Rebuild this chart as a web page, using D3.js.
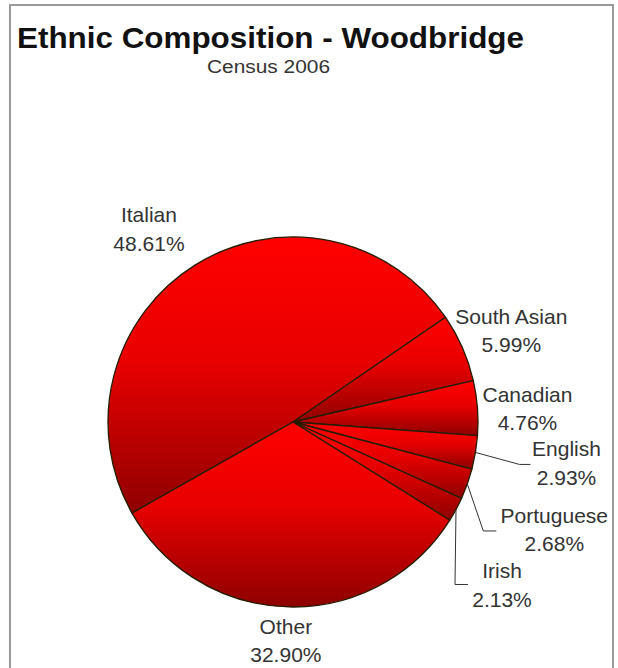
<!DOCTYPE html>
<html>
<head>
<meta charset="utf-8">
<script src="https://cdn.jsdelivr.net/npm/d3@7"></script>
<style>
  html, body { margin: 0; padding: 0; background: #fff; }
  svg { display: block; }
  text { font-family: "Liberation Sans", Arial, sans-serif; }
</style>
</head>
<body>
<svg id="chart" width="618" height="668"></svg>
<script>
// Ethnic origin shares, Woodbridge, Census 2006 (percent)
const categories = ["Italian", "South Asian", "Canadian", "English", "Portuguese", "Irish", "Other"];
const shares = [48.61, 5.99, 4.76, 2.93, 2.68, 2.13, 32.90];

const titleText = "Ethnic Composition - Woodbridge";
const subtitleText = "Census 2006";

// Label placement relative to the point where each slice's bisector meets the rim.
// leader: elbow offset and horizontal run for slices whose labels sit on callout lines.
const labelLayout = {
  "Italian":     { dx: -46,  dy: -43 },
  "South Asian": { dx: 49,   dy: -24 },
  "Canadian":    { dx: 50,   dy: -6 },
  "English":     { dx: 91,   dy: 4,  leader: { ex: 44, ey: 12, run: 11 } },
  "Portuguese":  { dx: 87,   dy: 39, leader: { ex: 16, ey: 47, run: 13 } },
  "Irish":       { dx: 46,   dy: 69, leader: { ex: -1, ey: 75, run: 13 } },
  "Other":       { dx: -3,   dy: 27 }
};

const W = 618, H = 668;
const cx = 293, cy = 422, radius = 185;
const lineGap = 28.5;
const startDeg = 240.5;

const svg = d3.select("#chart");

// frame
svg.append("rect")
  .attr("x", 10).attr("y", 5)
  .attr("width", 603).attr("height", H + 10)
  .attr("fill", "#fff")
  .attr("stroke", "#9a9a9a")
  .attr("stroke-width", 2);

// title + subtitle
svg.append("text")
  .attr("x", 17).attr("y", 48)
  .attr("font-size", 30).attr("font-weight", "bold")
  .attr("fill", "#111")
  .attr("textLength", 507).attr("lengthAdjust", "spacingAndGlyphs")
  .text(titleText);

svg.append("text")
  .attr("x", 207).attr("y", 73)
  .attr("font-size", 18)
  .attr("fill", "#333")
  .attr("textLength", 123).attr("lengthAdjust", "spacingAndGlyphs")
  .text(subtitleText);

// vertical shading applied per slice (bounding-box based)
const defs = svg.append("defs");
const grad = defs.append("linearGradient")
  .attr("id", "sliceShade")
  .attr("x1", 0).attr("y1", 0).attr("x2", 0).attr("y2", 1);
grad.append("stop").attr("offset", "0%").attr("stop-color", "#ff0000");
grad.append("stop").attr("offset", "45%").attr("stop-color", "#e80000");
grad.append("stop").attr("offset", "100%").attr("stop-color", "#8e0000");

const data = categories.map((c, i) => ({ name: c, value: shares[i] }));

const start = startDeg * Math.PI / 180;
const pie = d3.pie()
  .value(d => d.value)
  .sort(null)
  .startAngle(start)
  .endAngle(start + 2 * Math.PI);

const arcs = pie(data);
const arc = d3.arc().innerRadius(0).outerRadius(radius);
const rim = d3.arc().innerRadius(radius).outerRadius(radius);

const g = svg.append("g").attr("transform", `translate(${cx},${cy})`);

g.selectAll("path.slice")
  .data(arcs)
  .join("path")
  .attr("class", "slice")
  .attr("d", arc)
  .attr("fill", "url(#sliceShade)")
  .attr("stroke", "#231c00")
  .attr("stroke-width", 1.3)
  .attr("stroke-linejoin", "round");

// labels and callout lines
const fmt = d3.format(".2f");
arcs.forEach(a => {
  const lay = labelLayout[a.data.name];
  const [px, py] = rim.centroid(a);
  if (lay.leader) {
    const L = lay.leader;
    const ex = px + L.ex, ey = py + L.ey;
    g.append("polyline")
      .attr("points", [[px, py], [ex, ey], [ex + L.run, ey]].map(p => p.join(",")).join(" "))
      .attr("fill", "none")
      .attr("stroke", "#333")
      .attr("stroke-width", 1);
  }
  const t = g.append("text")
    .attr("text-anchor", "middle")
    .attr("font-size", 21)
    .attr("fill", "#333");
  t.append("tspan")
    .attr("x", px + lay.dx).attr("y", py + lay.dy)
    .text(a.data.name);
  t.append("tspan")
    .attr("x", px + lay.dx).attr("y", py + lay.dy + lineGap)
    .text(fmt(a.data.value) + "%");
});
</script>
</body>
</html>
